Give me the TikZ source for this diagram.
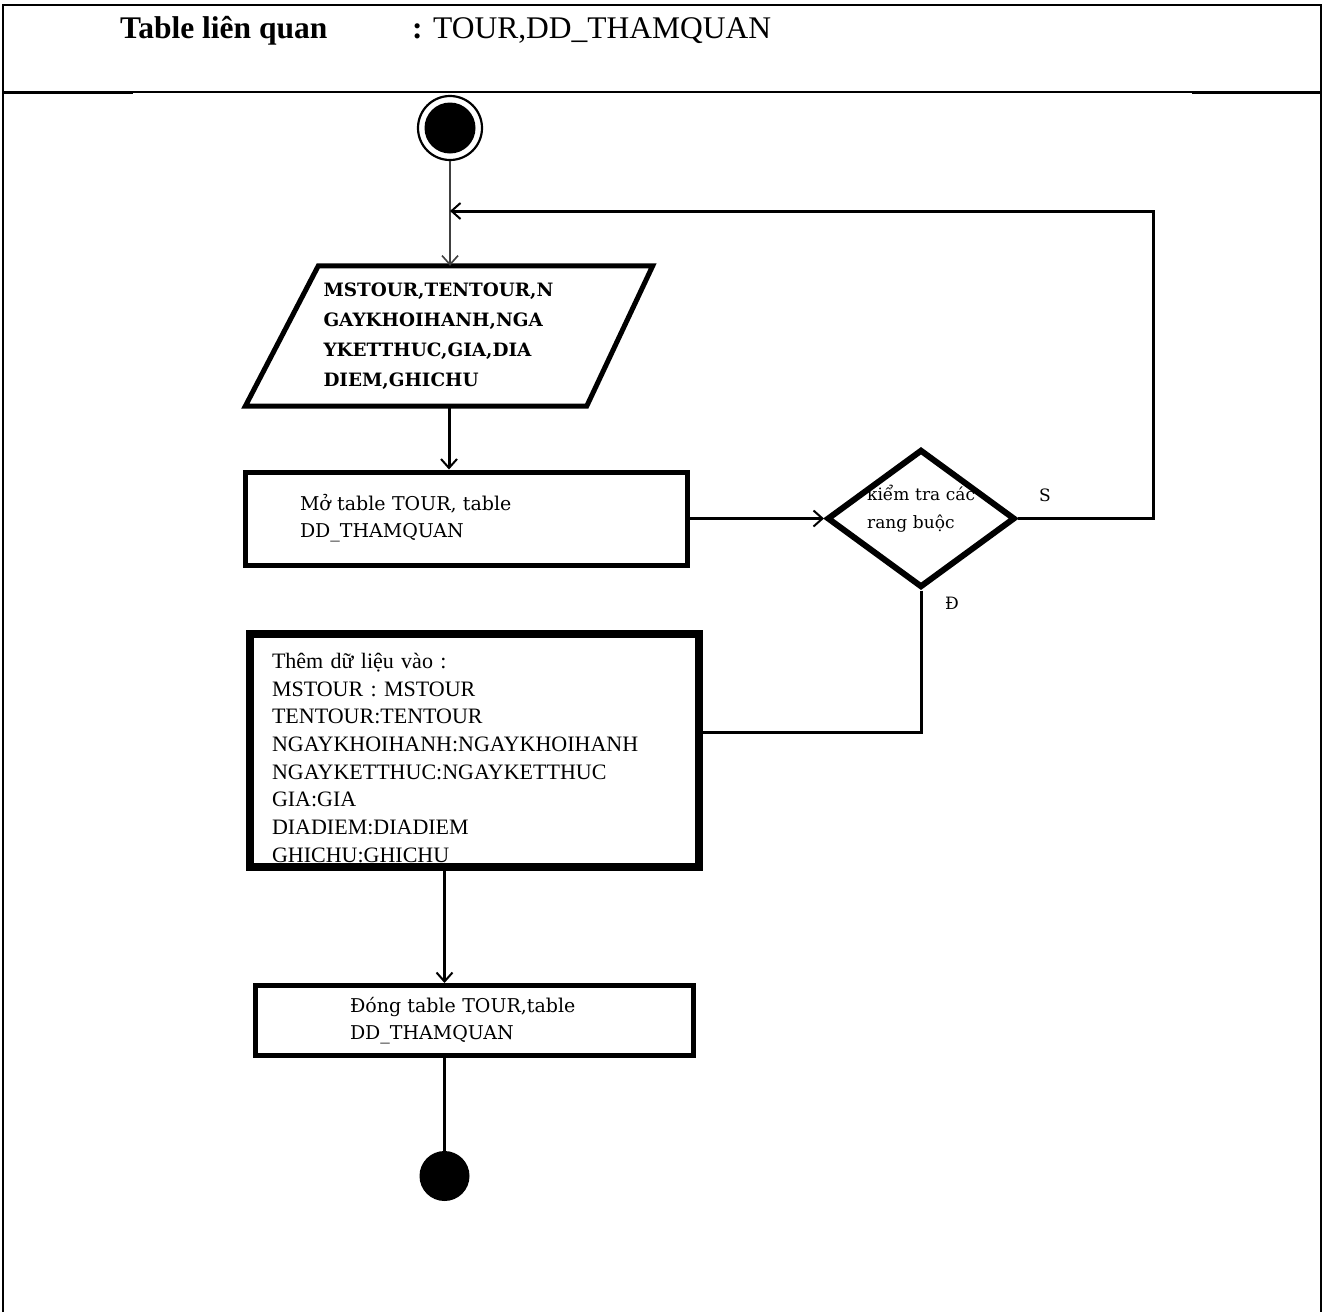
\documentclass[tikz,border=0pt]{standalone}
\usepackage{fontspec}
\setmainfont{Liberation Serif}
\newfontfamily\djs{DejaVu Serif}
\usetikzlibrary{shapes.geometric,arrows.meta,calc}
\tikzset{
  frameline/.style={line width=2pt},
  conn/.style={line width=3pt,-{Straight Barb[length=9pt,width=16pt,line width=2pt]}},
  thinconn/.style={line width=2pt,draw=black!75,-{Straight Barb[length=9pt,width=16pt,line width=1.6pt]}},
  plainline/.style={line width=3pt},
  actbox/.style={draw,rectangle,line width=5pt,align=left,inner ysep=0pt,
    font=\djs\fontsize{19pt}{27pt}\selectfont},
  dtxt/.style={font=\djs\fontsize{17pt}{28pt}\selectfont},
  hdr/.style={anchor=base west,inner sep=0pt,font=\fontsize{31.5pt}{36pt}\selectfont}
}
\begin{document}
\begin{tikzpicture}[x=1pt,y=-1pt]
\useasboundingbox (0,0) rectangle (1324,1312);
% frame
\draw[frameline] (3,1312) -- (3,5) -- (1321,5) -- (1321,1312);
\draw[frameline] (3,92) -- (1321,92);
\draw[line width=3pt] (3,92.5) -- (133,92.5);
\draw[line width=3pt] (1192,92.5) -- (1321,92.5);
% header
\node[hdr,font=\bfseries\fontsize{31.5pt}{36pt}\selectfont] (h1) at (120,38) {Table liên quan};
\node[hdr] (h2) at (412,38) {\textbf{:} TOUR,DD\_THAMQUAN};
% start
\node[circle,draw,line width=2.2pt,minimum size=64pt,inner sep=0pt,
  path picture={\fill (path picture bounding box.center) circle (25.5pt);}] (start) at (450,128) {};
% parallelogram
\node[rectangle,minimum width=407pt,minimum height=140pt,inner xsep=78pt,inner ysep=0pt,
  text width=251pt,align=left,font=\djs\bfseries\fontsize{18.4pt}{30pt}\selectfont]
  (par) at (449,336) {MSTOUR,TENTOUR,N\\GAYKHOIHANH,NGA\\YKETTHUC,GIA,DIA\\DIEM,GHICHU};
\draw[line width=5pt,line join=miter] (par.south west) -- ([xshift=73pt]par.north west)
  -- (par.north east) -- ([xshift=-66pt]par.south east) -- cycle;
% box 1
\node[actbox,minimum width=442pt,minimum height=93pt,inner xsep=54.5pt,text width=333pt]
  (box1) at (466.5,518.5) {Mở table TOUR, table\\DD\_THAMQUAN};
% diamond
\node[dtxt,anchor=base west,inner sep=0pt,text width=140pt,align=left] (dtext) at (867,500) {kiểm tra các\\rang buộc};
\node[diamond,draw,line width=6pt,minimum width=188pt,minimum height=138pt,inner sep=0pt] (dia) at (921,518.5) {};
\node[dtxt] (slbl) at (1045,495) {S};
\node[dtxt] (dlbl) at (952,603) {Đ};
% box 2
\node[actbox,line width=8pt,font=\fontsize{22pt}{27.7pt}\selectfont,minimum width=449pt,minimum height=233pt,
  inner xsep=22pt,text width=405pt] (box2) at (474.5,750.5)
  {\rule{0pt}{30pt}Thêm dữ liệu vào :\\MSTOUR : MSTOUR\\TENTOUR:TENTOUR\\NGAYKHOIHANH:NGAYKHOIHANH\\NGAYKETTHUC:NGAYKETTHUC\\GIA:GIA\\DIADIEM:DIADIEM\\GHICHU:GHICHU};
% box 3
\node[actbox,minimum width=438pt,minimum height=70pt,inner xsep=94.5pt,text width=249pt]
  (box3) at (474.5,1020.5) {Đóng table TOUR,table\\DD\_THAMQUAN};
% end
\node[circle,fill,minimum size=50pt,inner sep=0pt] (end) at (444.5,1176) {};
% connectors
\coordinate (loopc) at (1153,211);
\draw[thinconn] (start.south) -- (start.south |- par.north);
\draw[conn] (par.south) -- (par.south |- box1.north);
\draw[conn] (box1.east) -- (dia.west);
\draw[conn] (dia.east) -| (loopc) -- (loopc -| start);
\draw[plainline] (dia.south) |- ([yshift=18pt]box2.east);
\draw[conn] ([xshift=-30pt]box2.south) -- ([xshift=-30pt]box3.north);
\draw[plainline] ([xshift=-30pt]box3.south) -- (end);
\end{tikzpicture}
\end{document}
